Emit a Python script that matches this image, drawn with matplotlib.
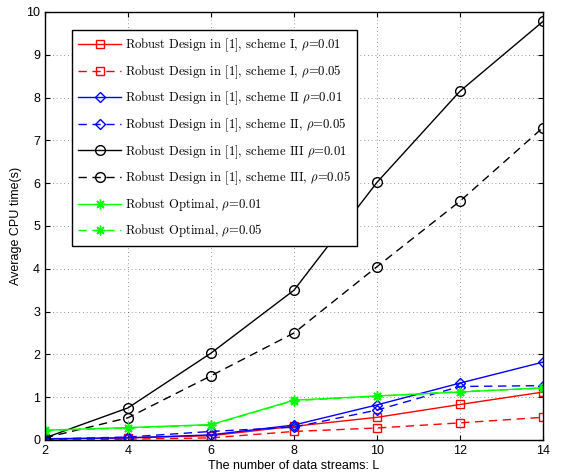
import numpy as np
import matplotlib
matplotlib.use("Agg")
import matplotlib.pyplot as plt

plt.rcParams['mathtext.fontset'] = 'cm'
plt.rcParams['axes.formatter.use_mathtext'] = False

L = [2, 4, 6, 8, 10, 12, 14]

s1_001 = [0.02, 0.05, 0.10, 0.32, 0.53, 0.83, 1.12]
s1_005 = [0.00, 0.02, 0.05, 0.20, 0.28, 0.40, 0.53]
s2_001 = [0.03, 0.05, 0.12, 0.35, 0.82, 1.33, 1.82]
s2_005 = [0.02, 0.07, 0.20, 0.30, 0.70, 1.25, 1.27]
s3_001 = [0.05, 0.75, 2.03, 3.50, 6.02, 8.15, 9.78]
s3_005 = [0.05, 0.52, 1.50, 2.50, 4.05, 5.58, 7.30]
opt_001 = [0.23, 0.29, 0.36, 0.93, 1.03, 1.12, 1.22]
opt_005 = [0.22, 0.28, 0.35, 0.92, 1.02, 1.13, 1.21]

labels = [
    r'Robust Design in [1], scheme I, $\rho$=0.01',
    r'Robust Design in [1], scheme I, $\rho$=0.05',
    r'Robust Design in [1], scheme II $\rho$=0.01',
    r'Robust Design in [1], scheme II, $\rho$=0.05',
    r'Robust Design in [1], scheme III $\rho$=0.01',
    r'Robust Design in [1], scheme III, $\rho$=0.05',
    r'Robust Optimal, $\rho$=0.01',
    r'Robust Optimal, $\rho$=0.05',
]

series = [s1_001, s1_005, s2_001, s2_005, s3_001, s3_005, opt_001, opt_005]
colors = ['#ff0000', '#ff0000', '#0000ff', '#0000ff', 'k', 'k', '#00ff00', '#00ff00']
markers = ['s', 's', 'D', 'D', 'o', 'o', (8, 2, 0), (8, 2, 0)]
sizes = [6, 6, 5.5, 5.5, 7, 7, 7, 7]
dash = (0, (6, 4))
styles = ['-', dash, '-', dash, '-', dash, '-', dash]

fig = plt.figure(figsize=(5.76, 4.76), dpi=100)
ax = fig.add_axes([45 / 576, 36 / 476, 498 / 576, 428 / 476])

for y, c, m, ms, ls, lab in zip(series, colors, markers, sizes, styles, labels):
    ax.plot(L, y, color=c, marker=m, markersize=ms,
            markerfacecolor='none', markeredgecolor=c, linestyle=ls,
            linewidth=1.0, label=lab)

ax.set_xlim(2, 14)
ax.set_ylim(0, 10)
ax.set_xticks(L)
ax.set_yticks(range(0, 11))
ax.grid(True, linestyle=(0, (1, 3.5)), color='k', linewidth=0.6, alpha=0.55)
ax.tick_params(direction='in', top=True, right=True, labelsize=9)
for lab in ax.get_xticklabels() + ax.get_yticklabels():
    lab.set_family('Liberation Sans')
for sp in ax.spines.values():
    sp.set_linewidth(1.0)

ax.set_xlabel('The number of data streams: L', family='Liberation Sans',
              fontsize=9, labelpad=2)
ax.set_ylabel('Average CPU time(s)', family='Liberation Sans',
              fontsize=9, labelpad=3)

leg = ax.legend(loc='upper left', bbox_to_anchor=(0.054, 0.958),
                borderaxespad=0,
                prop={'family': ['cmr10', 'DejaVu Serif'], 'size': 9.1},
                fancybox=False, edgecolor='k', framealpha=1,
                handlelength=3.4, labelspacing=0.72, borderpad=0.52,
                handletextpad=0.25)
leg.get_frame().set_linewidth(1.0)

fig.savefig('out.png', dpi=100)
